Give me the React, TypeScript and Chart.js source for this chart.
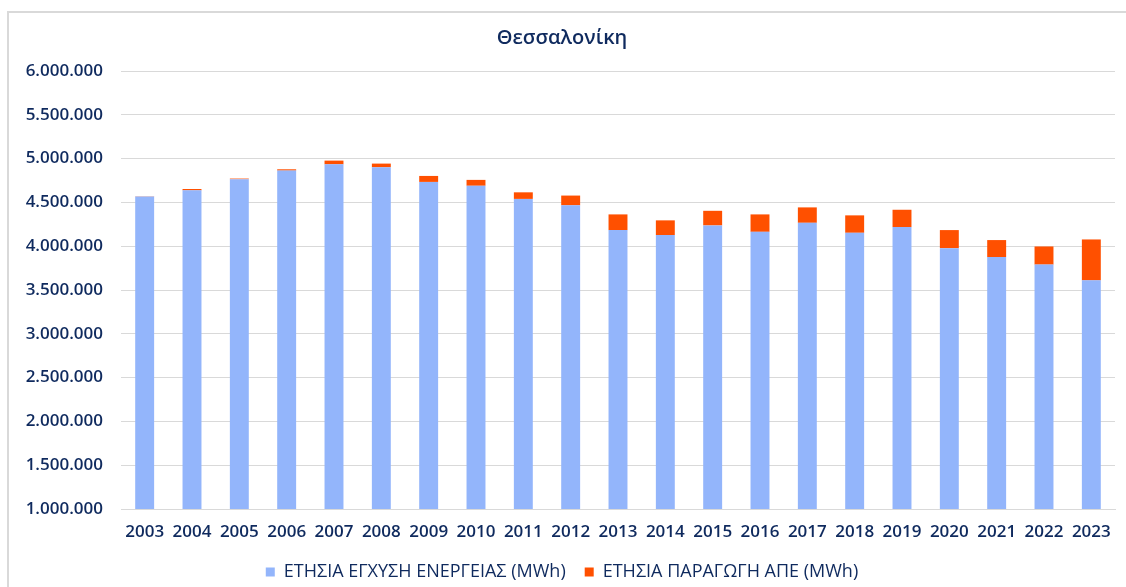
import React, { useEffect, useRef } from "react";
import { Chart, registerables } from "chart.js";

Chart.register(...registerables);

const years = ["2003","2004","2005","2006","2007","2008","2009","2010","2011","2012","2013","2014","2015","2016","2017","2018","2019","2020","2021","2022","2023"];
const injection = [4566000,4638000,4764000,4863000,4935000,4901000,4734000,4690000,4540000,4467000,4184000,4127000,4237000,4164000,4267000,4153000,4218000,3977000,3876000,3790000,3610000];
const resProduction = [3000,15000,8000,15000,42000,42000,68000,67000,75000,111000,179000,168000,167000,199000,176000,199000,198000,207000,194000,207000,467000];
const seriesNames = ["ΕΤΗΣΙΑ ΕΓΧΥΣΗ ΕΝΕΡΓΕΙΑΣ (MWh)", "ΕΤΗΣΙΑ ΠΑΡΑΓΩΓΗ ΑΠΕ (MWh)"];
const titleText = "Θεσσαλονίκη";

const NAVY = "#0f2a5e";
const FONT = "'Open Sans', sans-serif";

const fmt = (v: number) => Math.round(v).toString().replace(/\B(?=(\d{3})+(?!\d))/g, ".");

export default function App() {
  const ref = useRef<HTMLCanvasElement>(null);
  useEffect(() => {
    if (!ref.current) return;
    const chart = new Chart(ref.current, {
      type: "bar",
      data: {
        labels: years,
        datasets: [
          { label: seriesNames[0], data: injection, backgroundColor: "#93b5fb", borderWidth: 0, barPercentage: 0.4, categoryPercentage: 1 },
          { label: seriesNames[1], data: resProduction, backgroundColor: "#ff5000", borderWidth: 0, barPercentage: 0.4, categoryPercentage: 1 },
        ],
      },
      options: {
        responsive: false,
        animation: false,
        layout: { padding: { left: 0, right: 20, top: 0, bottom: 0 } },
        plugins: {
          title: {
            display: true,
            text: titleText,
            color: NAVY,
            font: { family: FONT, size: 20, weight: 600 },
            padding: { top: 13, bottom: 21 },
          },
          legend: {
            position: "bottom",
            labels: {
              color: NAVY,
              font: { family: FONT, size: 18, weight: 500 },
              boxWidth: 9,
              boxHeight: 9,
              padding: 19,
            },
          },
          tooltip: { enabled: false },
        },
        scales: {
          x: {
            stacked: true,
            grid: { display: false, drawTicks: false },
            border: { display: true, color: "#d9d9d9" },
            ticks: { color: NAVY, font: { family: FONT, size: 17, weight: 600 }, padding: 13, maxRotation: 0, autoSkip: false },
            afterFit: (s: any) => { s.height = 35; },
          },
          y: {
            stacked: true,
            min: 1000000,
            max: 6000000,
            grid: { color: "#d9d9d9", drawTicks: false },
            border: { display: false },
            ticks: {
              stepSize: 500000,
              color: NAVY,
              font: { family: FONT, size: 17, weight: 600 },
              padding: 18,
              callback: (v: any) => fmt(Number(v)),
            },
            afterFit: (s: any) => { s.width = 112; },
          },
        },
      },
    });
    return () => chart.destroy();
  }, []);
  return (
    <div style={{ position: "fixed", left: 0, top: 0, width: 1126, height: 587, overflow: "hidden", background: "#fff" }}>
      <div style={{ position: "absolute", left: 7, top: 11, width: 1140, height: 620, borderLeft: "2px solid #d9d9d9", borderTop: "2px solid #d9d9d9" }}>
        <canvas ref={ref} width={1126} height={578} style={{ display: "block", width: 1126, height: 578 }} />
      </div>
    </div>
  );
}
